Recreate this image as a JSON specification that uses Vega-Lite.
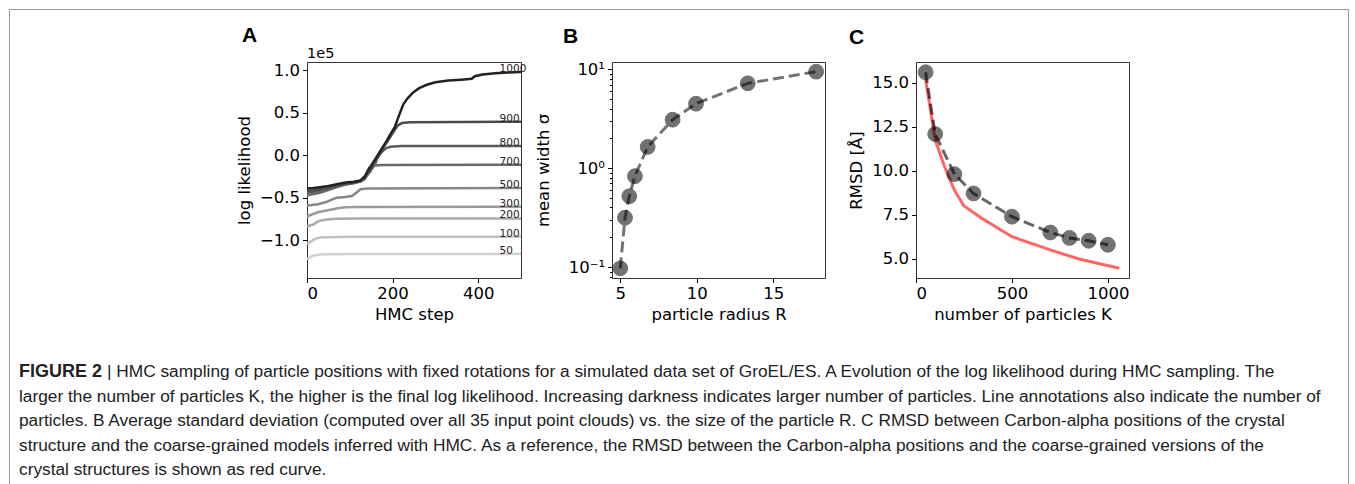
{
  "$schema": "https://vega.github.io/schema/vega-lite/v6.json",
  "padding": {"left": 8, "top": 8, "right": 0, "bottom": 0},
  "background": "white",
  "config": {
    "view": {"stroke": "#333", "strokeWidth": 1},
    "axis": {
      "labelFont": "DejaVu Sans", "labelFontSize": 16.5, "labelColor": "#000",
      "titleFont": "DejaVu Sans", "titleFontSize": 16.5, "titleFontWeight": "normal", "titleColor": "#000",
      "domain": false, "grid": false, "tickColor": "#000", "tickSize": 4.5, "labelPadding": 3, "titlePadding": 4
    },
    "title": {"font": "Liberation Sans", "fontSize": 21, "fontWeight": "bold", "color": "#000", "anchor": "start", "frame": "group", "baseline": "alphabetic"}
  },
  "datasets": {
    "ll": [
      {"K": 50, "step": 0, "ll": -1.22}, {"K": 50, "step": 5, "ll": -1.21}, {"K": 50, "step": 10, "ll": -1.19}, {"K": 50, "step": 20, "ll": -1.175}, {"K": 50, "step": 30, "ll": -1.168}, {"K": 50, "step": 50, "ll": -1.165}, {"K": 50, "step": 100, "ll": -1.163}, {"K": 50, "step": 200, "ll": -1.162}, {"K": 50, "step": 500, "ll": -1.16},
      {"K": 100, "step": 0, "ll": -1.04}, {"K": 100, "step": 5, "ll": -1.03}, {"K": 100, "step": 10, "ll": -1.01}, {"K": 100, "step": 20, "ll": -0.98}, {"K": 100, "step": 30, "ll": -0.968}, {"K": 100, "step": 50, "ll": -0.963}, {"K": 100, "step": 100, "ll": -0.96}, {"K": 100, "step": 200, "ll": -0.958}, {"K": 100, "step": 500, "ll": -0.957},
      {"K": 200, "step": 0, "ll": -0.84}, {"K": 200, "step": 10, "ll": -0.82}, {"K": 200, "step": 15, "ll": -0.815}, {"K": 200, "step": 22, "ll": -0.79}, {"K": 200, "step": 30, "ll": -0.77}, {"K": 200, "step": 45, "ll": -0.755}, {"K": 200, "step": 70, "ll": -0.748}, {"K": 200, "step": 120, "ll": -0.745}, {"K": 200, "step": 500, "ll": -0.743},
      {"K": 300, "step": 0, "ll": -0.72}, {"K": 300, "step": 10, "ll": -0.70}, {"K": 300, "step": 18, "ll": -0.685}, {"K": 300, "step": 25, "ll": -0.67}, {"K": 300, "step": 40, "ll": -0.655}, {"K": 300, "step": 55, "ll": -0.64}, {"K": 300, "step": 75, "ll": -0.62}, {"K": 300, "step": 90, "ll": -0.612}, {"K": 300, "step": 120, "ll": -0.608}, {"K": 300, "step": 500, "ll": -0.605},
      {"K": 500, "step": 0, "ll": -0.59}, {"K": 500, "step": 10, "ll": -0.585}, {"K": 500, "step": 25, "ll": -0.575}, {"K": 500, "step": 45, "ll": -0.55}, {"K": 500, "step": 60, "ll": -0.515}, {"K": 500, "step": 70, "ll": -0.5}, {"K": 500, "step": 90, "ll": -0.49}, {"K": 500, "step": 105, "ll": -0.48}, {"K": 500, "step": 115, "ll": -0.44}, {"K": 500, "step": 125, "ll": -0.4}, {"K": 500, "step": 140, "ll": -0.39}, {"K": 500, "step": 500, "ll": -0.385},
      {"K": 700, "step": 0, "ll": -0.47}, {"K": 700, "step": 15, "ll": -0.455}, {"K": 700, "step": 30, "ll": -0.44}, {"K": 700, "step": 50, "ll": -0.41}, {"K": 700, "step": 70, "ll": -0.375}, {"K": 700, "step": 90, "ll": -0.345}, {"K": 700, "step": 110, "ll": -0.325}, {"K": 700, "step": 125, "ll": -0.31}, {"K": 700, "step": 135, "ll": -0.28}, {"K": 700, "step": 140, "ll": -0.24}, {"K": 700, "step": 145, "ll": -0.21}, {"K": 700, "step": 152, "ll": -0.15}, {"K": 700, "step": 158, "ll": -0.12}, {"K": 700, "step": 175, "ll": -0.115}, {"K": 700, "step": 500, "ll": -0.11},
      {"K": 800, "step": 0, "ll": -0.44}, {"K": 800, "step": 15, "ll": -0.43}, {"K": 800, "step": 30, "ll": -0.415}, {"K": 800, "step": 50, "ll": -0.39}, {"K": 800, "step": 70, "ll": -0.36}, {"K": 800, "step": 90, "ll": -0.34}, {"K": 800, "step": 110, "ll": -0.325}, {"K": 800, "step": 125, "ll": -0.305}, {"K": 800, "step": 135, "ll": -0.27}, {"K": 800, "step": 142, "ll": -0.2}, {"K": 800, "step": 148, "ll": -0.19}, {"K": 800, "step": 155, "ll": -0.1}, {"K": 800, "step": 160, "ll": -0.09}, {"K": 800, "step": 165, "ll": -0.02}, {"K": 800, "step": 175, "ll": 0.04}, {"K": 800, "step": 185, "ll": 0.085}, {"K": 800, "step": 195, "ll": 0.1}, {"K": 800, "step": 220, "ll": 0.108}, {"K": 800, "step": 500, "ll": 0.11},
      {"K": 900, "step": 0, "ll": -0.42}, {"K": 900, "step": 15, "ll": -0.41}, {"K": 900, "step": 30, "ll": -0.395}, {"K": 900, "step": 50, "ll": -0.375}, {"K": 900, "step": 70, "ll": -0.35}, {"K": 900, "step": 90, "ll": -0.33}, {"K": 900, "step": 110, "ll": -0.315}, {"K": 900, "step": 125, "ll": -0.3}, {"K": 900, "step": 135, "ll": -0.255}, {"K": 900, "step": 145, "ll": -0.15}, {"K": 900, "step": 150, "ll": -0.16}, {"K": 900, "step": 158, "ll": -0.07}, {"K": 900, "step": 165, "ll": -0.03}, {"K": 900, "step": 175, "ll": 0.07}, {"K": 900, "step": 185, "ll": 0.14}, {"K": 900, "step": 195, "ll": 0.22}, {"K": 900, "step": 205, "ll": 0.3}, {"K": 900, "step": 212, "ll": 0.35}, {"K": 900, "step": 222, "ll": 0.38}, {"K": 900, "step": 240, "ll": 0.39}, {"K": 900, "step": 500, "ll": 0.395},
      {"K": 1000, "step": 0, "ll": -0.39}, {"K": 1000, "step": 15, "ll": -0.385}, {"K": 1000, "step": 30, "ll": -0.375}, {"K": 1000, "step": 50, "ll": -0.36}, {"K": 1000, "step": 70, "ll": -0.34}, {"K": 1000, "step": 90, "ll": -0.32}, {"K": 1000, "step": 110, "ll": -0.31}, {"K": 1000, "step": 125, "ll": -0.295}, {"K": 1000, "step": 135, "ll": -0.25}, {"K": 1000, "step": 145, "ll": -0.16}, {"K": 1000, "step": 155, "ll": -0.08}, {"K": 1000, "step": 165, "ll": 0.0}, {"K": 1000, "step": 175, "ll": 0.08}, {"K": 1000, "step": 185, "ll": 0.16}, {"K": 1000, "step": 195, "ll": 0.25}, {"K": 1000, "step": 205, "ll": 0.33}, {"K": 1000, "step": 215, "ll": 0.47}, {"K": 1000, "step": 225, "ll": 0.6}, {"K": 1000, "step": 235, "ll": 0.67}, {"K": 1000, "step": 248, "ll": 0.74}, {"K": 1000, "step": 262, "ll": 0.79}, {"K": 1000, "step": 280, "ll": 0.83}, {"K": 1000, "step": 300, "ll": 0.86}, {"K": 1000, "step": 330, "ll": 0.88}, {"K": 1000, "step": 360, "ll": 0.89}, {"K": 1000, "step": 385, "ll": 0.9}, {"K": 1000, "step": 392, "ll": 0.93}, {"K": 1000, "step": 410, "ll": 0.95}, {"K": 1000, "step": 440, "ll": 0.965}, {"K": 1000, "step": 470, "ll": 0.975}, {"K": 1000, "step": 500, "ll": 0.98}
    ],
    "lab": [
      {"label": "1000", "ll": 0.98}, {"label": "900", "ll": 0.395}, {"label": "800", "ll": 0.11}, {"label": "700", "ll": -0.11}, {"label": "500", "ll": -0.385}, {"label": "300", "ll": -0.605}, {"label": "200", "ll": -0.743}, {"label": "100", "ll": -0.957}, {"label": "50", "ll": -1.16}
    ],
    "sigma": [
      {"R": 5.0, "sigma": 0.097}, {"R": 5.31, "sigma": 0.315}, {"R": 5.59, "sigma": 0.52}, {"R": 5.96, "sigma": 0.83}, {"R": 6.79, "sigma": 1.64}, {"R": 8.42, "sigma": 3.09}, {"R": 9.95, "sigma": 4.49}, {"R": 13.33, "sigma": 7.21}, {"R": 17.8, "sigma": 9.46}
    ],
    "rmsd": [
      {"K": 50, "rmsd": 15.61}, {"K": 100, "rmsd": 12.09}, {"K": 200, "rmsd": 9.81}, {"K": 300, "rmsd": 8.71}, {"K": 500, "rmsd": 7.39}, {"K": 700, "rmsd": 6.49}, {"K": 800, "rmsd": 6.18}, {"K": 900, "rmsd": 6.02}, {"K": 1000, "rmsd": 5.79}
    ],
    "red": [
      {"K": 50, "rmsd": 15.2}, {"K": 100, "rmsd": 11.75}, {"K": 150, "rmsd": 10.2}, {"K": 200, "rmsd": 8.9}, {"K": 250, "rmsd": 8.0}, {"K": 350, "rmsd": 7.25}, {"K": 500, "rmsd": 6.25}, {"K": 700, "rmsd": 5.5}, {"K": 850, "rmsd": 4.98}, {"K": 1060, "rmsd": 4.45}
    ],
    "cap": [
      {"line": 1, "part": "b", "text": "FIGURE 2"},
      {"line": 1, "part": "f", "text": "| HMC sampling of particle positions with fixed rotations for a simulated data set of GroEL/ES. A Evolution of the log likelihood during HMC sampling. The"},
      {"line": 2, "part": "r", "text": "larger the number of particles K, the higher is the final log likelihood. Increasing darkness indicates larger number of particles. Line annotations also indicate the number of"},
      {"line": 3, "part": "r", "text": "particles. B Average standard deviation (computed over all 35 input point clouds) vs. the size of the particle R. C RMSD between Carbon-alpha positions of the crystal"},
      {"line": 4, "part": "r", "text": "structure and the coarse-grained models inferred with HMC. As a reference, the RMSD between the Carbon-alpha positions and the coarse-grained versions of the"},
      {"line": 5, "part": "r", "text": "crystal structures is shown as red curve."}
    ]
  },
  "spacing": 53,
  "bounds": "flush",
  "vconcat": [
    {
      "vconcat": [
        {
          "width": 1339, "height": 475,
          "view": {"stroke": "#999", "fill": null},
          "data": {"values": []},
          "mark": "point"
        }
      ]
    },
    {
      "spacing": 297.75,
      "bounds": "flush",
      "vconcat": [
        {
          "spacing": 91,
          "bounds": "flush",
          "hconcat": [
            {
              "width": 207, "height": 216,
              "view": {"stroke": null},
              "data": {"values": []},
              "mark": "point"
            },
            {
              "width": 214, "height": 216,
              "title": {"text": "A", "dx": -65, "offset": 0},
              "layer": [
                {
                  "data": {"name": "ll"},
                  "mark": {"type": "line", "strokeWidth": 2.5, "clip": true},
                  "encoding": {
                    "x": {"field": "step", "type": "quantitative", "scale": {"domain": [0, 500], "nice": false, "zero": false}, "axis": {"values": [0, 200, 400], "title": "HMC step"}},
                    "y": {"field": "ll", "type": "quantitative", "scale": {"domain": [-1.444, 1.098], "nice": false, "zero": false}, "axis": {"values": [-1, -0.5, 0, 0.5, 1], "format": ".1f", "title": "log likelihood", "titlePadding": 7}},
                    "color": {"field": "K", "type": "ordinal", "scale": {"domain": [50, 100, 200, 300, 500, 700, 800, 900, 1000], "range": ["#d2d2d2", "#c2c2c2", "#aaaaaa", "#9a9a9a", "#868686", "#6a6a6a", "#5a5a5a", "#4c4c4c", "#222222"]}, "legend": null}
                  }
                },
                {
                  "data": {"name": "lab"},
                  "mark": {"type": "text", "align": "left", "baseline": "middle", "dy": -3, "fontSize": 10.5, "font": "DejaVu Sans", "color": "#222"},
                  "encoding": {
                    "x": {"datum": 450, "type": "quantitative"},
                    "y": {"field": "ll", "type": "quantitative"},
                    "text": {"field": "label"}
                  }
                },
                {
                  "data": {"values": [{}]},
                  "mark": {"type": "text", "text": "1e5", "align": "left", "baseline": "alphabetic", "dy": -4, "fontSize": 14.5, "font": "DejaVu Sans", "color": "#000"},
                  "encoding": {
                    "x": {"datum": 0, "type": "quantitative"},
                    "y": {"datum": 1.098, "type": "quantitative"}
                  }
                }
              ]
            },
            {
              "width": 213, "height": 216,
              "title": {"text": "B", "dx": -49, "offset": 14},
              "data": {"name": "sigma"},
              "encoding": {
                "x": {"field": "R", "type": "quantitative", "scale": {"domain": [4.46, 18.38], "nice": false, "zero": false}, "axis": {"values": [5, 10, 15], "title": "particle radius R"}}
              },
              "layer": [
                {
                  "mark": {"type": "line", "strokeDash": [11, 5], "strokeWidth": 3, "color": "#000", "opacity": 0.55},
                  "encoding": {"y": {"field": "sigma", "type": "quantitative", "scale": {"type": "log", "domain": [0.0774, 11.85], "nice": false}, "axis": null}}
                },
                {
                  "mark": {"type": "circle", "size": 220, "color": "#000", "opacity": 0.55, "stroke": "#000", "strokeWidth": 1},
                  "encoding": {"y": {"field": "sigma", "type": "quantitative", "axis": {"orient": "left", "values": [0.1, 1, 10], "labelExpr": "datum.value < 0.5 ? '10⁻¹' : datum.value < 5 ? '10⁰' : '10¹'", "title": "mean width σ", "titlePadding": 17}}}
                },
                {
                  "mark": {"type": "circle", "opacity": 0},
                  "encoding": {"y": {"field": "sigma", "type": "quantitative", "axis": {"orient": "left", "values": [0.08, 0.09, 0.2, 0.3, 0.4, 0.5, 0.6, 0.7, 0.8, 0.9, 2, 3, 4, 5, 6, 7, 8, 9], "labels": false, "tickSize": 2.5, "title": null}}}
                }
              ],
              "resolve": {"axis": {"y": "independent"}}
            },
            {
              "width": 213, "height": 216,
              "title": {"text": "C", "dx": -67, "offset": 14},
              "encoding": {
                "x": {"field": "K", "type": "quantitative", "scale": {"domain": [0, 1110], "nice": false, "zero": false}, "axis": {"values": [0, 500, 1000], "format": "d", "title": "number of particles K"}},
                "y": {"field": "rmsd", "type": "quantitative", "scale": {"domain": [3.9, 16.19], "nice": false, "zero": false}, "axis": {"values": [5, 7.5, 10, 12.5, 15], "format": ".1f", "title": "RMSD [Å]", "titlePadding": 7}}
              },
              "layer": [
                {"data": {"name": "red"}, "mark": {"type": "line", "color": "red", "opacity": 0.6, "strokeWidth": 3}},
                {"data": {"name": "rmsd"}, "mark": {"type": "line", "strokeDash": [11, 5], "strokeWidth": 3, "color": "#000", "opacity": 0.6}},
                {"data": {"name": "rmsd"}, "mark": {"type": "circle", "size": 220, "color": "#000", "opacity": 0.55, "stroke": "#000", "strokeWidth": 1}}
              ]
            }
          ]
        },
        {
          "width": 1329, "height": 122.5,
          "view": {"stroke": null},
          "data": {"name": "cap"},
          "encoding": {
            "y": {"field": "line", "type": "ordinal", "axis": null},
            "x": {"datum": 0, "type": "quantitative", "scale": {"domain": [-10, 1319]}, "axis": null},
            "text": {"field": "text"}
          },
          "layer": [
            {"transform": [{"filter": "datum.part == 'b'"}], "mark": {"type": "text", "align": "left", "baseline": "middle", "font": "Liberation Sans", "fontSize": 18, "fontWeight": "bold", "color": "#222"}},
            {"transform": [{"filter": "datum.part == 'f'"}], "mark": {"type": "text", "align": "left", "baseline": "middle", "font": "Liberation Sans", "fontSize": 17.3, "color": "#222", "dx": 88}},
            {"transform": [{"filter": "datum.part == 'r'"}], "mark": {"type": "text", "align": "left", "baseline": "middle", "font": "Liberation Sans", "fontSize": 17.3, "color": "#222"}}
          ]
        }
      ]
    }
  ]
}
